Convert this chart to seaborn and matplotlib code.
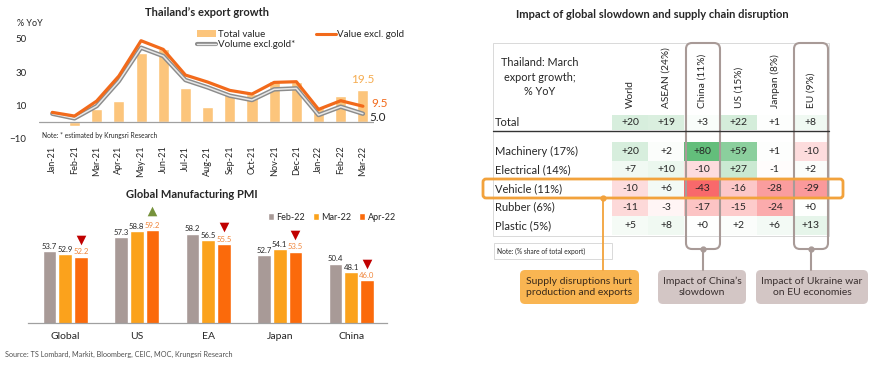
# Thailand exports / PMI / export-growth heatmap panel

import numpy as np
import pandas as pd
import matplotlib.pyplot as plt
import seaborn as sns
from matplotlib.colors import LinearSegmentedColormap, TwoSlopeNorm
from matplotlib.patches import FancyBboxPatch, Rectangle, Patch
from matplotlib.lines import Line2D

# ---- data ----
months = ['Jan-21', 'Feb-21', 'Mar-21', 'Apr-21', 'May-21', 'Jun-21', 'Jul-21', 'Aug-21',
          'Sep-21', 'Oct-21', 'Nov-21', 'Dec-21', 'Jan-22', 'Feb-22', 'Mar-22']
total_value = [-0.4, -2.6, 8.0, 12.8, 41.6, 43.6, 20.2, 9.0, 16.6, 17.0, 24.6, 24.2, 8.5, 15.8, 19.5]
value_excl_gold = [5.8, 3.6, 12.6, 27.6, 48.8, 43.6, 28.2, 24.0, 19.0, 16.8, 23.8, 24.2, 7.6, 12.8, 9.5]
volume_excl_gold = [5.0, 2.2, 9.6, 24.6, 44.6, 39.6, 25.2, 20.8, 15.8, 13.2, 19.6, 20.2, 4.2, 9.2, 5.0]

regions = ['Global', 'US', 'EA', 'Japan', 'China']
pmi_months = ['Feb-22', 'Mar-22', 'Apr-22']
pmi_feb = [53.7, 57.3, 58.2, 52.7, 50.4]
pmi_mar = [52.9, 58.8, 56.5, 54.1, 48.1]
pmi_apr = [52.2, 59.2, 55.5, 53.5, 46.0]

markets = ['World', 'ASEAN (24%)', 'China (11%)', 'US (15%)', 'Janpan (8%)', 'EU (9%)']
total_growth = [20, 19, 3, 22, 1, 8]
products = ['Machinery (17%)', 'Electrical (14%)', 'Vehicle (11%)', 'Rubber (6%)', 'Plastic (5%)']
machinery = [20, 2, 80, 59, 1, -10]
electrical = [7, 10, -10, 27, -1, 2]
vehicle = [-10, 6, -43, -16, -28, -29]
rubber = [-11, -3, -17, -15, -24, 0]
plastic = [5, 8, 0, 2, 6, 13]

# ---- setup ----
sns.set_style('white')
plt.rcParams['font.family'] = ['Lato', 'DejaVu Sans']
W, H = 870, 365
fig = plt.figure(figsize=(W / 100, H / 100), dpi=100)


def px(x0, y0, x1, y1):
    return [x0 / W, 1 - y1 / H, (x1 - x0) / W, (y1 - y0) / H]


def ftext(x, y, s, **kw):
    fig.text(x / W, 1 - y / H, s, **kw)


dark = '#262626'

# ---- Thailand's export growth ----
ax1 = fig.add_axes(px(39, 30.4, 374, 138.7))
sns.barplot(x=months, y=total_value, color='#fcc57c', saturation=1, width=0.5, ax=ax1)
xs = np.arange(len(months))
ax1.plot(xs, volume_excl_gold, color='#8c8c8c', lw=3.2, solid_capstyle='round')
ax1.plot(xs, volume_excl_gold, color='#e8e8e8', lw=1.1)
ax1.plot(xs, value_excl_gold, color='#f26a1b', lw=2.3)
ax1.axhline(0, color='#a0a0a0', lw=0.9)
ax1.set_xlim(-0.6, 14.5)
ax1.set_ylim(-10, 55)
ax1.set_yticks([-10, 10, 30, 50])
ax1.tick_params(axis='both', length=0, labelsize=7, colors=dark)
ax1.tick_params(axis='y', pad=9)
ax1.tick_params(axis='x', labelrotation=90, pad=5, labelsize=6.5)
ax1.set_xlabel('')
sns.despine(ax=ax1, left=True, bottom=True)
ax1.text(-0.45, -7.8, 'Note: * estimated by Krungsri Research', fontsize=4.8, color=dark, va='center')
ax1.text(14, 25.8, '19.5', color='#f5ac50', fontsize=8.5, ha='center', va='center')
ax1.text(14.4, 11.4, '9.5', color='#f26a1b', fontsize=8.5, ha='left', va='center')
ax1.text(14.3, 3.0, '5.0', color=dark, fontsize=8.5, ha='left', va='center')

h_total = Patch(facecolor='#fcc57c', edgecolor='none')
h_vol = (Line2D([], [], color='#8c8c8c', lw=3), Line2D([], [], color='#e8e8e8', lw=1))
h_val = Line2D([], [], color='#f26a1b', lw=2.2)
ax1.legend([h_total, h_vol, h_val], ['Total value', 'Volume excl.gold*', 'Value excl. gold'],
           ncol=2, loc='upper left', bbox_to_anchor=(192 / W, 1 - 25 / H),
           bbox_transform=fig.transFigure, frameon=False, fontsize=7,
           handlelength=2.0, handleheight=0.6, handletextpad=0.15, labelspacing=0.15,
           columnspacing=2.2, borderpad=0)

ftext(207, 12, 'Thailand’s export growth', fontsize=8, fontweight='bold', ha='center', va='center', color=dark)
ftext(17, 23, '% YoY', fontsize=6.5, ha='left', va='center', color=dark)

# ---- Global Manufacturing PMI ----
pmi = pd.DataFrame({
    'region': regions * 3,
    'month': np.repeat(pmi_months, len(regions)),
    'pmi': pmi_feb + pmi_mar + pmi_apr,
})
pmi_colors = ['#a89a97', '#fba21c', '#fb6a0b']
ax2 = fig.add_axes(px(28, 212, 387, 322.7))
sns.barplot(data=pmi, x='region', y='pmi', hue='month', palette=pmi_colors, saturation=1,
            width=0.66, gap=0.12, ax=ax2, legend=False)
ax2.set_ylim(35, 63.8)
ax2.set_xlim(-0.52, 4.5)
ax2.set_yticks([])
ax2.set_xlabel('')
ax2.set_ylabel('')
ax2.tick_params(axis='x', length=0, pad=7, labelsize=7.5, colors=dark)
sns.despine(ax=ax2, left=True)
ax2.spines['bottom'].set_color('#a0a0a0')
ax2.spines['bottom'].set_linewidth(0.9)
for cont, col in zip(ax2.containers, [dark, dark, '#f0853a']):
    ax2.bar_label(cont, fmt='%.1f', padding=0.8, fontsize=5.6, color=col)
for p, mar, apr in zip(ax2.containers[2], pmi_mar, pmi_apr):
    cx = p.get_x() + p.get_width() / 2
    if apr > mar:
        ax2.scatter([cx], [apr + 4.8], marker='^', s=48, color='#76923c', linewidths=0, clip_on=False)
    else:
        ax2.scatter([cx], [apr + 4.3], marker='v', s=48, color='#c00000', linewidths=0, clip_on=False)
ax2.legend([Patch(facecolor=c) for c in pmi_colors], pmi_months, ncol=3, loc='center left',
           bbox_to_anchor=(263 / W, 1 - 217 / H), bbox_transform=fig.transFigure,
           frameon=False, fontsize=6.5, handlelength=0.7, handleheight=0.7,
           handletextpad=0.3, columnspacing=0.8, borderpad=0)
ftext(192, 195, 'Global Manufacturing PMI', fontsize=8, fontweight='bold', ha='center', va='center', color=dark)
ftext(5, 354, 'Source: TS Lombard, Markit, Bloomberg, CEIC, MOC, Krungsri Research',
      fontsize=5.2, ha='left', va='center', color='#505050')

# ---- export growth heatmap ----
cmap = LinearSegmentedColormap.from_list('rwg', ['#F8696B', '#FFFFFF', '#63BE7B'])
norm = TwoSlopeNorm(vmin=-43, vcenter=0, vmax=80)
annot_kw = dict(fontsize=7.5, color=dark)

tot = np.array([total_growth])
ax_t = fig.add_axes(px(612, 115, 829, 130.5))
sns.heatmap(tot, cmap=cmap, norm=norm, annot=np.vectorize(lambda v: f'{v:+d}')(tot), fmt='',
            cbar=False, xticklabels=False, yticklabels=False, annot_kws=annot_kw, ax=ax_t)
ax_t.text(-3.23, 0.5, 'Total', fontsize=8, ha='left', va='center', color=dark)
for j, m in enumerate(markets):
    ax_t.text(j + 0.5, -0.45, m, rotation=90, ha='center', va='bottom', fontsize=7.3, color=dark)
ax_t.text(-2.0, -2.45, 'Thailand: March\nexport growth;\n% YoY', ha='center', va='center',
          fontsize=7.8, color=dark, linespacing=1.35)

prod = np.array([machinery, electrical, vehicle, rubber, plastic])
ax_b = fig.add_axes(px(612, 142, 829, 235))
sns.heatmap(prod, cmap=cmap, norm=norm, annot=np.vectorize(lambda v: f'{v:+d}')(prod), fmt='',
            cbar=False, xticklabels=False, yticklabels=False, annot_kws=annot_kw, ax=ax_b)
for i, name in enumerate(products):
    ax_b.text(-3.23, i + 0.5, name, fontsize=8, ha='left', va='center', color=dark)

ftext(652, 14, 'Impact of global slowdown and supply chain disruption', fontsize=8,
      fontweight='bold', ha='center', va='center', color=dark)

# ---- overlay: frames and callouts ----
ov = fig.add_axes([0, 0, 1, 1], facecolor='none')
ov.set_xlim(0, W)
ov.set_ylim(H, 0)
ov.axis('off')

ov.add_patch(Rectangle((493, 43), 336, 193, fill=False, ec='#d9d9d9', lw=0.7))
ov.plot([493, 829], [131, 131], color='#333333', lw=1)
ov.add_patch(Rectangle((494, 243), 118, 16, fill=False, ec='#d9d9d9', lw=0.7))
ov.text(497, 251, 'Note: (% share of total export)', fontsize=4.8, va='center', color=dark)

mauve = '#a89a97'
for x0, x1, bx0, bx1, label in [(686, 720, 658, 746, 'Impact of China’s\nslowdown'),
                                (794, 828, 756, 868, 'Impact of Ukraine war\non EU economies')]:
    ov.add_patch(FancyBboxPatch((x0, 43), x1 - x0, 206, boxstyle='round,pad=0,rounding_size=6',
                                fill=False, ec=mauve, lw=1.5))
    cx = (x0 + x1) / 2
    ov.plot([cx, cx], [249, 270], color=mauve, lw=1.5)
    ov.plot([cx], [249], 'o', ms=3.5, color=mauve)
    ov.add_patch(FancyBboxPatch((bx0, 270), bx1 - bx0, 34, boxstyle='round,pad=0,rounding_size=5',
                                fc='#d3c6c5', ec='none'))
    ov.text((bx0 + bx1) / 2, 287, label, ha='center', va='center', fontsize=7.5,
            color='#3a3030', linespacing=1.3)

orange = '#f2a23c'
ov.add_patch(FancyBboxPatch((483, 179), 360, 19, boxstyle='round,pad=0,rounding_size=3',
                            fill=False, ec=orange, lw=2))
ov.plot([603, 603], [198, 270], color=orange, lw=1.3)
ov.plot([603], [198], 'o', ms=3.5, color=orange)
ov.add_patch(FancyBboxPatch((520, 270), 119, 34, boxstyle='round,pad=0,rounding_size=5',
                            fc='#f9b552', ec='none'))
ov.text(579.5, 287, 'Supply disruptions hurt\nproduction and exports', ha='center', va='center',
        fontsize=7.5, color='#3a2a1a', linespacing=1.3)

fig.savefig('out.png', dpi=100)
